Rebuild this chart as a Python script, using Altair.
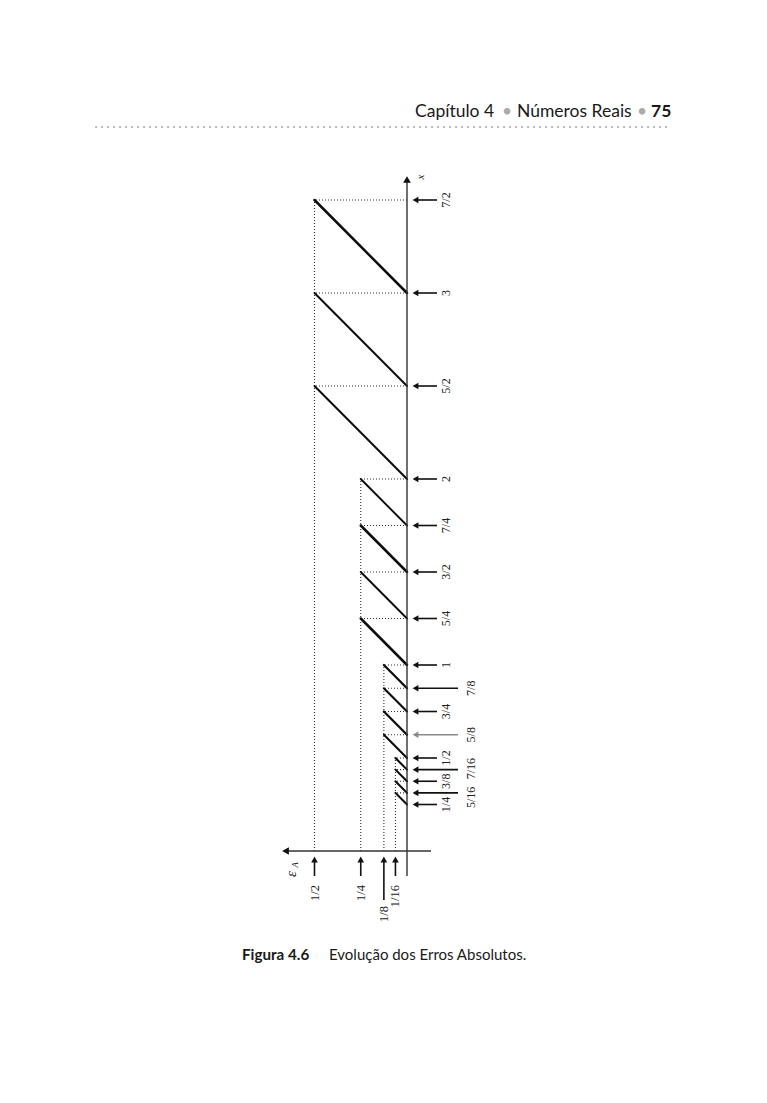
import altair as alt
import pandas as pd

# ---------------- data ----------------
saw_base = [3, 2.5, 2, 1.75, 1.5, 1.25, 1, 0.875, 0.75, 0.625, 0.5, 0.4375, 0.375, 0.3125, 0.25]
saw_top = [3.5, 3, 2.5, 2, 1.75, 1.5, 1.25, 1, 0.875, 0.75, 0.625, 0.5, 0.4375, 0.375, 0.3125]
saw_err = [0.5, 0.5, 0.5, 0.25, 0.25, 0.25, 0.25, 0.125, 0.125, 0.125, 0.125,
           0.0625, 0.0625, 0.0625, 0.0625]
saw_weight = [2.5, 2.0, 2.0, 1.9, 2.5, 1.9, 2.5, 2.3, 2.1, 2.3, 2.1, 2.1, 2.1, 2.1, 2.1]

level_err = [0.5, 0.25, 0.125, 0.0625]
level_top = [3.5, 2, 1, 0.5]

tick_x = [3.5, 3, 2.5, 2, 1.75, 1.5, 1.25, 1, 0.875, 0.75, 0.625, 0.5, 0.4375, 0.375, 0.3125, 0.25]
tick_labels = ["7/2", "3", "5/2", "2", "7/4", "3/2", "5/4", "1", "7/8", "3/4", "5/8",
               "1/2", "7/16", "3/8", "5/16", "1/4"]
tick_long = [False, False, False, False, False, False, False, False,
             True, False, True, False, True, False, True, False]
tick_color = ["#111"] * 10 + ["#8a8a8a"] + ["#111"] * 5

err_ticks = [0.5, 0.25, 0.125, 0.0625]
err_labels = ["1/2", "1/4", "1/8", "1/16"]
err_long = [False, False, True, False]

# ---------------- geometry helpers (page pixels -> data units) ----------------
W, H = 751, 1087
PX_PER_E = 185.0
PX_PER_X = 186.0
AX_PX, AX_PY = 407.0, 851.0


def e_of(px):
    return (AX_PX - px) / PX_PER_E


def x_of(py):
    return (AX_PY - py) / PX_PER_X


E_DOM = [e_of(8 + W), e_of(8)]
X_DOM = [x_of(8 + H), x_of(8)]

escale = alt.Scale(domain=E_DOM, reverse=True, nice=False, zero=False)
xscale = alt.Scale(domain=X_DOM, nice=False, zero=False)


def EX(f):
    return alt.X(f, type="quantitative", scale=escale, axis=None)


def XY(f):
    return alt.Y(f, type="quantitative", scale=xscale, axis=None)


# ---------------- tables ----------------
saw_df = pd.DataFrame({"e0": [0.0] * len(saw_base), "e1": saw_err,
                       "x0": saw_base, "x1": saw_top, "w": saw_weight})
hgrid_df = pd.DataFrame({"e0": [0.0] * len(saw_top), "e1": saw_err, "x": saw_top})
vgrid_df = pd.DataFrame({"e": level_err, "x0": [0.0] * 4, "x1": level_top})

short_end, long_end = e_of(437), e_of(458)
# small downward nudge (pixels) of a crowded label so the long-label column does not collide
label_nudge_px = {"5/16": 4.5, "7/16": -1.0}
tick_df = pd.DataFrame({
    "x": tick_x, "label": tick_labels, "color": tick_color,
    "x_lab": [x - label_nudge_px.get(lb, 0.0) / PX_PER_X for x, lb in zip(tick_x, tick_labels)],
    "e_tip": [e_of(418)] * len(tick_x),
    "e_end": [long_end if l else short_end for l in tick_long],
    "e_head": [e_of(415.5)] * len(tick_x),
    "e_lab": [e_of(471) if l else e_of(446) for l in tick_long],
})

err_df = pd.DataFrame({
    "e": err_ticks, "label": err_labels,
    "x_tip": [x_of(862)] * 4,
    "x_end": [x_of(900) if l else x_of(876) for l in err_long],
    "x_head": [x_of(859.5)] * 4,
    "x_lab": [x_of(906) if l else x_of(885) for l in err_long],
})

axis_v = pd.DataFrame({"e": [0.0], "x0": [x_of(876)], "x1": [x_of(182)]})
axis_h = pd.DataFrame({"x": [0.0], "e0": [e_of(431)], "e1": [e_of(288)]})
axis_heads = pd.DataFrame({"e": [0.0, e_of(285.5)], "x": [x_of(179.5), 0.0],
                           "shape": ["triangle-up", "triangle-left"]})

# ---------------- layers ----------------
saw = alt.Chart(saw_df).mark_rule(color="#0d0d0d", strokeCap="round").encode(
    x=EX("e0"), x2="e1", y=XY("x0"), y2="x1",
    strokeWidth=alt.StrokeWidth("w:Q", scale=None))

hgrid = alt.Chart(hgrid_df).mark_rule(color="#333", strokeDash=[1, 2], strokeWidth=1.1).encode(
    x=EX("e0"), x2="e1", y=XY("x"))

vgrid = alt.Chart(vgrid_df).mark_rule(color="#333", strokeDash=[1, 2], strokeWidth=1.1).encode(
    x=EX("e"), y=XY("x0"), y2="x1")

ax_v = alt.Chart(axis_v).mark_rule(color="#333", strokeWidth=1.4).encode(
    x=EX("e"), y=XY("x0"), y2="x1")
ax_h = alt.Chart(axis_h).mark_rule(color="#333", strokeWidth=1.4).encode(
    x=EX("e0"), x2="e1", y=XY("x"))
ax_heads = alt.Chart(axis_heads).mark_point(filled=True, color="#111", size=60, opacity=1).encode(
    x=EX("e"), y=XY("x"), shape=alt.Shape("shape:N", scale=None))

tick_shaft = alt.Chart(tick_df).mark_rule(strokeWidth=1.6).encode(
    x=EX("e_tip"), x2="e_end", y=XY("x"), color=alt.Color("color:N", scale=None))
tick_head = alt.Chart(tick_df).mark_point(filled=True, shape="triangle-left", size=45, opacity=1).encode(
    x=EX("e_head"), y=XY("x"), color=alt.Color("color:N", scale=None))
tick_text = alt.Chart(tick_df).mark_text(
    angle=270, font="Liberation Serif", fontSize=12, color="#222",
    align="center", baseline="middle").encode(
    x=EX("e_lab"), y=XY("x_lab"), text="label:N")

err_shaft = alt.Chart(err_df).mark_rule(strokeWidth=1.6, color="#111").encode(
    x=EX("e"), y=XY("x_tip"), y2="x_end")
err_head = alt.Chart(err_df).mark_point(filled=True, shape="triangle-up", size=45, opacity=1, color="#111").encode(
    x=EX("e"), y=XY("x_head"))
err_text = alt.Chart(err_df).mark_text(
    angle=270, font="Liberation Serif", fontSize=12.5, color="#222",
    align="right", baseline="middle").encode(
    x=EX("e"), y=XY("x_lab"), text="label:N")

lab_df = pd.DataFrame({"e": [e_of(421), e_of(291), e_of(295)],
                       "x": [x_of(177), x_of(874), x_of(865)],
                       "t": ["x", "ε", "A"],
                       "s": [11, 15, 8.5]})
axis_labels = alt.Chart(lab_df).mark_text(
    angle=270, font="Liberation Serif", fontStyle="italic", color="#222",
    align="center", baseline="middle").encode(
    x=EX("e"), y=XY("x"), text="t:N", size=alt.Size("s:Q", scale=None))

# ---------------- page header & caption ----------------
one = pd.DataFrame({"a": [0]})


def page_text(txt, px, py, size, color="#1a1a1a", weight="normal"):
    return alt.Chart(one).mark_text(
        text=txt, font="Lato", fontSize=size, fontWeight=weight, color=color,
        align="left", baseline="alphabetic").encode(
        x=alt.value(px - 8), y=alt.value(py - 8))


header = [
    page_text("Capítulo 4", 415, 117, 17.5),
    page_text("•", 502, 117, 17.5, color="#aaaaaa"),
    page_text("Números Reais", 517, 117, 17.5),
    page_text("•", 637, 117, 17.5, color="#aaaaaa"),
    page_text("75", 651, 117, 17.5, weight="bold"),
]

dots = alt.Chart(one).mark_rule(
    color="#b0b0b0", strokeWidth=2.2, strokeDash=[0.1, 5.9], strokeCap="round").encode(
    x=alt.value(96 - 8), x2=alt.value(672 - 8), y=alt.value(127 - 8))

caption = [
    page_text("Figura 4.6", 242, 960, 15.2, weight="bold"),
    page_text("Evolução dos Erros Absolutos.", 329, 960, 15),
]

chart = alt.layer(
    vgrid, hgrid, saw, ax_v, ax_h, ax_heads,
    tick_shaft, tick_head, tick_text,
    err_shaft, err_head, err_text, axis_labels,
    *header, dots, *caption,
).resolve_scale(x="shared", y="shared").properties(
    width=W, height=H, padding=0, autosize=alt.AutoSizeParams(type="none"),
    background="white",
).configure_view(stroke=None)

chart.save("out.html", embed_options={"renderer": "svg", "actions": False})
